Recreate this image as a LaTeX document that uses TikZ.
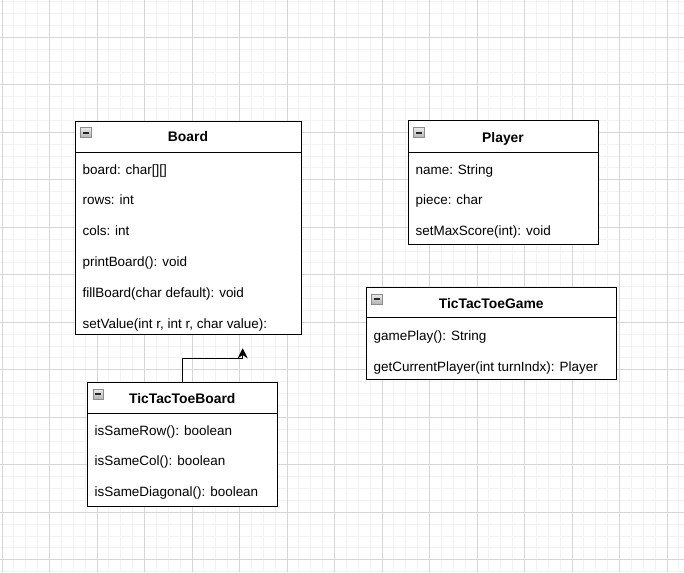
\documentclass[tikz,border=0pt]{standalone}
\usepackage{fontspec}
\setmainfont{Liberation Sans}
\usetikzlibrary{arrows.meta}
\tikzset{
  gridminor/.style={draw=black!5, line width=0.75pt},
  gridmajor/.style={draw=black!16, line width=0.75pt},
  umlbox/.style={draw=black, line width=0.75pt, fill=white, inner sep=0pt, outer sep=0pt, rectangle},
  sepline/.style={draw=black, line width=0.75pt},
  umltitle/.style={font=\fontsize{10.4}{12}\selectfont\bfseries, inner sep=0pt, anchor=base},
  umlattr/.style={font=\fontsize{10.1}{12}\selectfont, inner sep=0pt, anchor=base west},
  iconbox/.style={draw=black!45, line width=0.6pt, top color=black!8, bottom color=black!30},
  icondash/.style={draw=black!85, line width=1.5pt},
  inherit/.style={draw=black, line width=0.75pt, -{Stealth[length=7.5pt,width=7.5pt,inset=2.5pt]}},
}
\newcommand\collapseicon[1]{%
  \draw[iconbox] ([shift={(5.7,6.7)}]#1.north west) rectangle ++(10.5,10);
  \draw[icondash] ([shift={(8,11.7)}]#1.north west) -- ++(6,0);
}
\begin{document}
\begin{tikzpicture}[x=0.75pt,y=-0.75pt]
\useasboundingbox (0,0) rectangle (684,572);
\fill[white] (0,0) rectangle (684,572);
% grid
\foreach \i in {0,...,57} { \draw[gridminor] (2+11.875*\i,0) -- (2+11.875*\i,572); }
\foreach \i in {1,...,49} { \draw[gridminor] (0,-10.2+11.875*\i) -- (684,-10.2+11.875*\i); }
\foreach \i in {0,...,14} { \draw[gridmajor] (2+47.5*\i,0) -- (2+47.5*\i,572); }
\foreach \i in {0,...,11} { \draw[gridmajor] (0,37.3+47.5*\i) -- (684,37.3+47.5*\i); }

% Board
\node[umlbox, minimum width=169.5pt, minimum height=160.1pt] (board) at (188,227.75) {};
\draw[sepline] ([yshift=-23.6pt]board.north west) -- ([yshift=-23.6pt]board.north east);
\collapseicon{board}
\node[umltitle] (boardT) at (188,141.7) {Board};
\node[umlattr] (b1) at (82.3,174) {board: char[][]};
\node[umlattr] (b2) at (82.3,204.8) {rows: int};
\node[umlattr] (b3) at (82.3,235.6) {cols: int};
\node[umlattr] (b4) at (82.3,266.4) {printBoard(): void};
\node[umlattr] (b5) at (82.3,297.2) {fillBoard(char default): void};
\node[umlattr] (b6) at (82.3,328) {setValue(int r, int r, char value):};

% TicTacToeBoard
\node[umlbox, minimum width=142.3pt, minimum height=92.5pt] (tboard) at (182.15,444.35) {};
\draw[sepline] ([yshift=-23.1pt]tboard.north west) -- ([yshift=-23.1pt]tboard.north east);
\collapseicon{tboard}
\node[umltitle] (tboardT) at (182.2,403.3) {TicTacToeBoard};
\node[umlattr] (t1) at (94.3,435) {isSameRow(): boolean};
\node[umlattr] (t2) at (94.3,465.7) {isSameCol(): boolean};
\node[umlattr] (t3) at (94.3,496.6) {isSameDiagonal(): boolean};

% Player
\node[umlbox, minimum width=142.5pt, minimum height=92.5pt] (player) at (503,182.65) {};
\draw[sepline] ([yshift=-23.6pt]player.north west) -- ([yshift=-23.6pt]player.north east);
\collapseicon{player}
\node[umltitle] (playerT) at (503,142.7) {Player};
\node[umlattr] (p1) at (415.3,174) {name: String};
\node[umlattr] (p2) at (415.3,204.8) {piece: char};
\node[umlattr] (p3) at (415.3,235.3) {setMaxScore(int): void};

% TicTacToeGame
\node[umlbox, minimum width=187.5pt, minimum height=69.5pt] (game) at (491,333.65) {};
\draw[sepline] ([yshift=-23.0pt]game.north west) -- ([yshift=-23.0pt]game.north east);
\collapseicon{game}
\node[umltitle] (gameT) at (491.2,308.3) {TicTacToeGame};
\node[umlattr] (g1) at (373.3,340.3) {gamePlay(): String};
\node[umlattr] (g2) at (373.3,371) {getCurrentPlayer(int turnIndx): Player};

% inheritance connector
\coordinate (tip) at (242.7,348.3);
\draw[inherit] (tboard.north) -- ++(0,-24) -| (tip);
\end{tikzpicture}
\end{document}
